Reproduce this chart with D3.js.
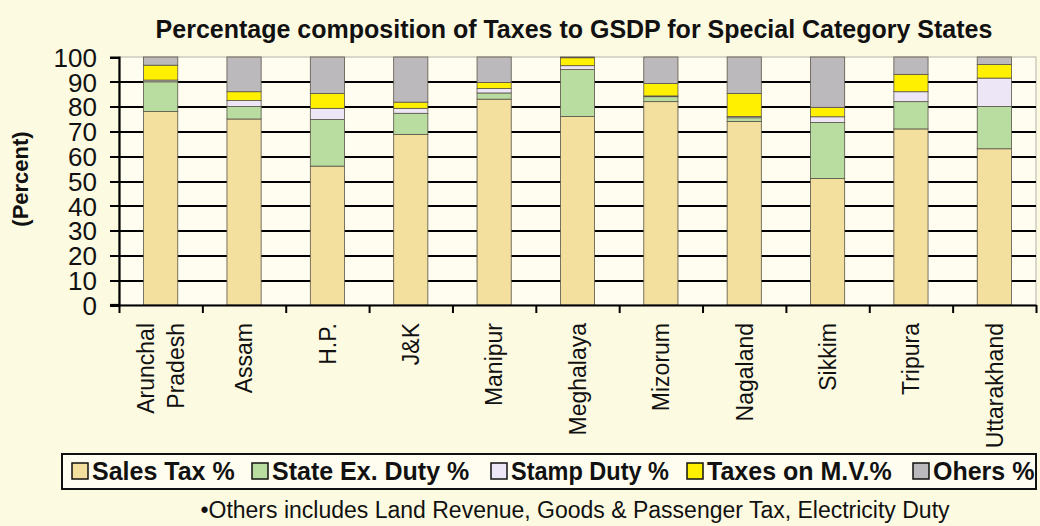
<!DOCTYPE html>
<html lang="en">
<head>
<meta charset="utf-8">
<title>Taxes to GSDP</title>
<script src="https://d3js.org/d3.v7.min.js"></script>
<style>
  body { margin: 0; background: #fdfae2; }
  text { font-family: "Liberation Sans", Arial, sans-serif; fill: #111; }
</style>
</head>
<body>
<script>
// data
var states = ["Arunchal Pradesh", "Assam", "H.P.", "J&K", "Manipur", "Meghalaya",
              "Mizorum", "Nagaland", "Sikkim", "Tripura", "Uttarakhand"];
var salesTax    = [78, 75, 56, 68.8, 83, 76, 82, 74, 51, 71, 63];
var stateExcise = [12, 5, 18.8, 8.5, 2.5, 19, 2, 1.5, 22.6, 11, 17];
var stampDuty   = [0.7, 2.5, 4.5, 2, 1.8, 1.5, 0.3, 0.5, 2.3, 4, 11.5];
var taxesMV     = [6, 3.5, 6, 2.5, 2.4, 3.2, 5, 9.3, 3.8, 7, 5.5];
var others      = [3.3, 14, 14.7, 18.2, 10.3, 0.3, 10.7, 14.7, 20.3, 7, 3];
var seriesNames = ["Sales Tax %", "State Ex. Duty %", "Stamp Duty %", "Taxes on M.V.%", "Ohers %"];
var yTicks = [0, 10, 20, 30, 40, 50, 60, 70, 80, 90, 100];

var colors = ["#f3df9e", "#b9dca0", "#ece6f7", "#fff000", "#bcb9bc"];

var w = 1040, h = 526;
var pLeft = 119, pRight = 1036, pTop = 57, pBottom = 305;

var svg = d3.select("body").append("svg")
    .attr("width", w).attr("height", h);

svg.append("rect").attr("width", w).attr("height", h).attr("fill", "#fdfae2");

// plot area
svg.append("rect")
    .attr("x", pLeft).attr("y", pTop)
    .attr("width", pRight - pLeft).attr("height", pBottom - pTop)
    .attr("fill", "#fffdf0")
    .attr("stroke", "#b5b2a8").attr("stroke-width", 1);

var x = d3.scaleBand().domain(states).range([pLeft, pRight])
    .paddingInner(0.59).paddingOuter(0.295);
var y = d3.scaleLinear().domain([0, 100]).range([pBottom, pTop]);

// title
svg.append("text")
    .attr("x", 574).attr("y", 38)
    .attr("text-anchor", "middle")
    .attr("font-weight", "bold").attr("font-size", 25)
    .text("Percentage composition of Taxes to GSDP for Special Category States");

// grid lines
svg.append("g")
    .attr("transform", "translate(" + pLeft + ",0)")
    .call(d3.axisLeft(y).tickValues(yTicks.slice(1, 10)).tickSize(-(pRight - pLeft)).tickFormat(""))
    .call(function(g) { g.select(".domain").remove(); })
    .selectAll("line").attr("stroke", "#000").attr("stroke-width", 2)
    .attr("shape-rendering", "crispEdges");

// stacked bars
var rows = states.map(function(s, i) {
  return { state: s, a: salesTax[i], b: stateExcise[i], c: stampDuty[i], d: taxesMV[i], e: others[i] };
});
var stack = d3.stack().keys(["a", "b", "c", "d", "e"])(rows);

svg.append("g").selectAll("g")
  .data(stack).join("g")
    .attr("fill", function(d, i) { return colors[i]; })
  .selectAll("rect")
  .data(function(d) { return d; }).join("rect")
    .attr("x", function(d) { return x(d.data.state); })
    .attr("width", x.bandwidth())
    .attr("y", function(d) { return y(d[1]); })
    .attr("height", function(d) { return y(d[0]) - y(d[1]); })
    .attr("stroke", "#5a5448").attr("stroke-width", 0.8);

// y axis
var yAxis = svg.append("g")
    .attr("transform", "translate(" + pLeft + ",0)")
    .call(d3.axisLeft(y).tickValues(yTicks).tickSize(9).tickPadding(13));
yAxis.select(".domain").attr("stroke", "#000").attr("stroke-width", 2.2);
yAxis.selectAll("line").attr("stroke", "#000").attr("stroke-width", 2)
    .attr("shape-rendering", "crispEdges");
yAxis.selectAll("text")
    .attr("font-size", 26).attr("fill", "#111")
    .attr("font-family", "Liberation Sans, Arial, sans-serif")
    .attr("dy", "0.36em");

// x axis, ticks between the states
var xb = d3.scaleLinear().domain([0, states.length]).range([pLeft, pRight]);
var xAxis = svg.append("g")
    .attr("transform", "translate(0," + pBottom + ")")
    .call(d3.axisBottom(xb).tickValues(d3.range(states.length + 1)).tickSize(8).tickFormat("").tickSizeOuter(0));
xAxis.select(".domain").attr("stroke", "#000").attr("stroke-width", 2.2);
xAxis.selectAll("line").attr("stroke", "#000").attr("stroke-width", 2);
svg.append("line")
    .attr("x1", pLeft - 9).attr("x2", pLeft).attr("y1", pBottom).attr("y2", pBottom)
    .attr("stroke", "#000").attr("stroke-width", 2.2);

// state labels
var labels = svg.append("g").selectAll("text")
  .data(states).join("text")
    .attr("transform", function(d) {
      return "translate(" + (x(d) + x.bandwidth() / 2) + ",323) rotate(-90)";
    })
    .attr("text-anchor", "end")
    .attr("font-size", 23);
labels.each(function(d) {
  var parts = d === "Arunchal Pradesh" ? ["Arunchal", "Pradesh"] : [d];
  var t = d3.select(this);
  parts.forEach(function(p, i) {
    t.append("tspan")
      .attr("x", 0)
      .attr("y", (i - (parts.length - 1) / 2) * 30)
      .attr("dy", "0.36em")
      .text(p);
  });
});

// y title
svg.append("text")
    .attr("transform", "translate(20,179) rotate(-90)")
    .attr("text-anchor", "middle").attr("dy", "0.36em")
    .attr("font-weight", "bold").attr("font-size", 22)
    .text("(Percent)");

// legend
svg.append("rect")
    .attr("x", 62).attr("y", 454).attr("width", 974).attr("height", 35)
    .attr("fill", "#fffdf0").attr("stroke", "#111").attr("stroke-width", 2);
var legendX = [72, 252, 491, 687, 913];
var items = svg.append("g").selectAll("g")
  .data(seriesNames).join("g")
    .attr("transform", function(d, i) { return "translate(" + legendX[i] + ",0)"; });
items.append("rect")
    .attr("x", 0).attr("y", 463).attr("width", 16).attr("height", 16)
    .attr("fill", function(d, i) { return colors[i]; })
    .attr("stroke", "#111").attr("stroke-width", 1.5);
items.append("text")
    .attr("x", 20).attr("y", 480)
    .attr("font-weight", "bold").attr("font-size", 25)
    .attr("textLength", function(d, i) { return i === 2 ? 158 : null; })
    .attr("lengthAdjust", "spacingAndGlyphs")
    .text(function(d) { return d; });

// footnote
svg.append("text")
    .attr("x", 575).attr("y", 518)
    .attr("text-anchor", "middle").attr("font-size", 23)
    .text("\u2022Others includes Land Revenue, Goods & Passenger Tax, Electricity Duty");
</script>
</body>
</html>
